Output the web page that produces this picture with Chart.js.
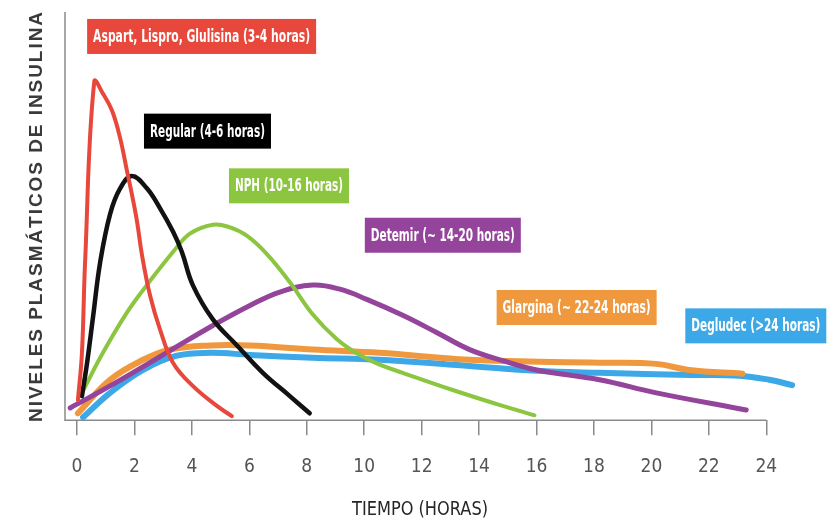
<!DOCTYPE html>
<html>
<head>
<meta charset="utf-8">
<script src="https://cdn.jsdelivr.net/npm/chart.js@4.4.1/dist/chart.umd.min.js"></script>
<style>
  html, body { margin: 0; padding: 0; background: #fff; }
  #wrap { width: 838px; height: 529px; }
</style>
</head>
<body>
<div id="wrap"><canvas id="curvas"></canvas></div>
<script>
// tiempo (horas) y nivel relativo (0-100)
const xTicks = [0, 2, 4, 6, 8, 10, 12, 14, 16, 18, 20, 22, 24];

const aspartHoras = [0.03, 0.17, 0.28, 0.6, 0.9, 1.22, 1.5, 1.74, 1.91, 2.09, 2.26, 2.54, 2.89, 3.34, 4.03, 4.87, 5.39];
const aspartNivel = [4.9, 16.5, 38.8, 83, 80, 75.8, 69.1, 61, 55.3, 48.6, 40.5, 30.6, 22.2, 14.1, 8.4, 3.5, 1];

const regularHoras = [0.17, 0.35, 0.56, 0.8, 1.15, 1.5, 1.91, 2.43, 2.89, 3.34, 3.65, 4.03, 4.73, 5.57, 6.47, 7.41, 8.1];
const regularNivel = [5.9, 14.1, 25.5, 38.5, 50.5, 56.8, 59.8, 56.8, 51.9, 46.2, 41.2, 33.1, 24.7, 18.3, 11.6, 5.9, 1.7];

const nphHoras = [0.17, 0.9, 1.74, 2.43, 3.34, 3.93, 4.73, 5.3, 5.91, 6.61, 7.41, 8.21, 9.04, 9.74, 10.54, 11.34, 13.08, 14.82, 15.93];
const nphNivel = [6.7, 16.5, 26.4, 33.1, 41.2, 45.7, 47.9, 47.3, 45.2, 40.7, 33.8, 25.9, 19.9, 16.4, 13.6, 11.6, 7.4, 3.5, 1.2];

const detemirHoras = [-0.24, 1.15, 3.23, 4.73, 6.02, 7.06, 8.21, 9.15, 10.09, 11.34, 12.52, 13.67, 14.82, 16, 18.19, 20.17, 23.3];
const detemirNivel = [3, 8.4, 17, 23.2, 28.1, 31.4, 33.1, 32.1, 29.6, 25.7, 21.5, 17.3, 14.6, 12.3, 9.9, 6.7, 2.5];

const glarginaHoras = [0.03, 1.15, 2.3, 3.23, 4.63, 6.02, 8.21, 10.54, 13.67, 18.19, 20.17, 21.32, 23.17];
const glarginaNivel = [1.7, 9.9, 14.8, 17.3, 18.3, 18.3, 17.3, 16.5, 14.8, 14.1, 13.8, 12.3, 11.4];

const degludecHoras = [0.21, 1.15, 2.3, 3.48, 4.63, 6.02, 8.21, 10.54, 13.67, 16, 18.19, 21.32, 23.06, 24.1, 24.9];
const degludecNivel = [0.7, 6.7, 12.3, 15.8, 16.5, 16, 15.3, 14.8, 13.3, 12.1, 11.6, 11.1, 10.9, 9.9, 8.6];

const nombres = [
  'Aspart, Lispro, Glulisina (3-4 horas)',
  'Regular (4-6 horas)',
  'NPH (10-16 horas)',
  'Detemir (~ 14-20 horas)',
  'Glargina (~ 22-24 horas)',
  'Degludec (>24 horas)'
];

const colores = ['#e8473b', '#121212', '#8cc540', '#94449b', '#ef983e', '#3ca8e7'];
const grosores = [4, 4.5, 4, 5, 6, 6];

// esquina superior izquierda de cada etiqueta (en horas / nivel) y ancho en px
const etiquetas = [
  { x: 0.35, y: 98.3, w: 229 },
  { x: 2.33, y: 75.1, w: 127 },
  { x: 5.29, y: 61.7, w: 120 },
  { x: 10.02, y: 49.6, w: 156 },
  { x: 14.61, y: 31.9, w: 160 },
  { x: 21.18, y: 27.4, w: 141 }
];

const series = [
  [aspartHoras, aspartNivel],
  [regularHoras, regularNivel],
  [nphHoras, nphNivel],
  [detemirHoras, detemirNivel],
  [glarginaHoras, glarginaNivel],
  [degludecHoras, degludecNivel]
];

const datasets = series.map(([hs, ns], i) => ({
  label: nombres[i],
  data: hs.map((h, j) => ({ x: h, y: ns[j] })),
  borderColor: colores[i],
  borderWidth: grosores[i],
  borderCapStyle: 'round',
  borderJoinStyle: 'round',
  pointRadius: 0,
  tension: 0.4,
  fill: false,
  clip: false
}));

const narrow = '"Liberation Sans Narrow", "DejaVu Sans Condensed", sans-serif';

const extras = {
  id: 'extras',
  beforeDatasetsDraw(chart) {
    const { ctx, chartArea, scales } = chart;
    const xEnd = scales.x.getPixelForValue(24);
    ctx.save();
    ctx.strokeStyle = '#8a8a8a';
    ctx.lineWidth = 1.5;
    ctx.beginPath();
    ctx.moveTo(chartArea.left, chartArea.top);
    ctx.lineTo(chartArea.left, chartArea.bottom);
    ctx.lineTo(xEnd, chartArea.bottom);
    ctx.stroke();

    // titulo eje x
    ctx.font = '20px ' + narrow;
    ctx.fillStyle = '#262626';
    ctx.textAlign = 'center';
    ctx.textBaseline = 'middle';
    ctx.fillText('TIEMPO (HORAS)', 420, 510, 136);

    // titulo eje y
    const txt = 'NIVELES PLASMÁTICOS DE INSULINA';
    ctx.translate(37, 216);
    ctx.rotate(-Math.PI / 2);
    ctx.font = 'bold 19px "Liberation Sans", Arial, sans-serif';
    const w0 = ctx.measureText(txt).width;
    ctx.letterSpacing = Math.max(0, (410 - w0) / (txt.length - 1)).toFixed(2) + 'px';
    ctx.fillStyle = '#3a3a3a';
    ctx.fillText(txt, 0, 0, 412);
    ctx.restore();
  },
  afterDatasetsDraw(chart) {
    const { ctx, scales } = chart;
    ctx.save();
    ctx.font = 'bold 17px ' + narrow;
    ctx.textAlign = 'left';
    ctx.textBaseline = 'middle';
    etiquetas.forEach((e, i) => {
      const px = scales.x.getPixelForValue(e.x);
      const py = scales.y.getPixelForValue(e.y);
      const h = 35;
      ctx.fillStyle = colores[i] === '#121212' ? '#000' : colores[i];
      ctx.fillRect(px, py, e.w, h);
      ctx.fillStyle = '#fff';
      ctx.fillText(nombres[i], px + 6, py + h / 2 + 1, e.w - 12);
    });
    ctx.restore();
  }
};

new Chart(document.getElementById('curvas'), {
  type: 'line',
  data: { datasets },
  options: {
    responsive: true,
    maintainAspectRatio: false,
    animation: false,
    layout: { padding: { left: 65, right: 43, top: 12, bottom: 31 } },
    plugins: { legend: { display: false }, tooltip: { enabled: false } },
    scales: {
      x: {
        type: 'linear',
        min: -0.42,
        max: 25,
        afterBuildTicks: s => { s.ticks = xTicks.map(v => ({ value: v })); },
        border: { display: false },
        grid: { drawOnChartArea: false, drawTicks: true, tickLength: 15, color: '#8a8a8a', lineWidth: 1.5 },
        ticks: { color: '#555', font: { family: narrow, size: 19 }, padding: 20, maxRotation: 0, autoSkip: false }
      },
      y: { min: 0, max: 100, display: false }
    }
  },
  plugins: [extras]
});
</script>
</body>
</html>
